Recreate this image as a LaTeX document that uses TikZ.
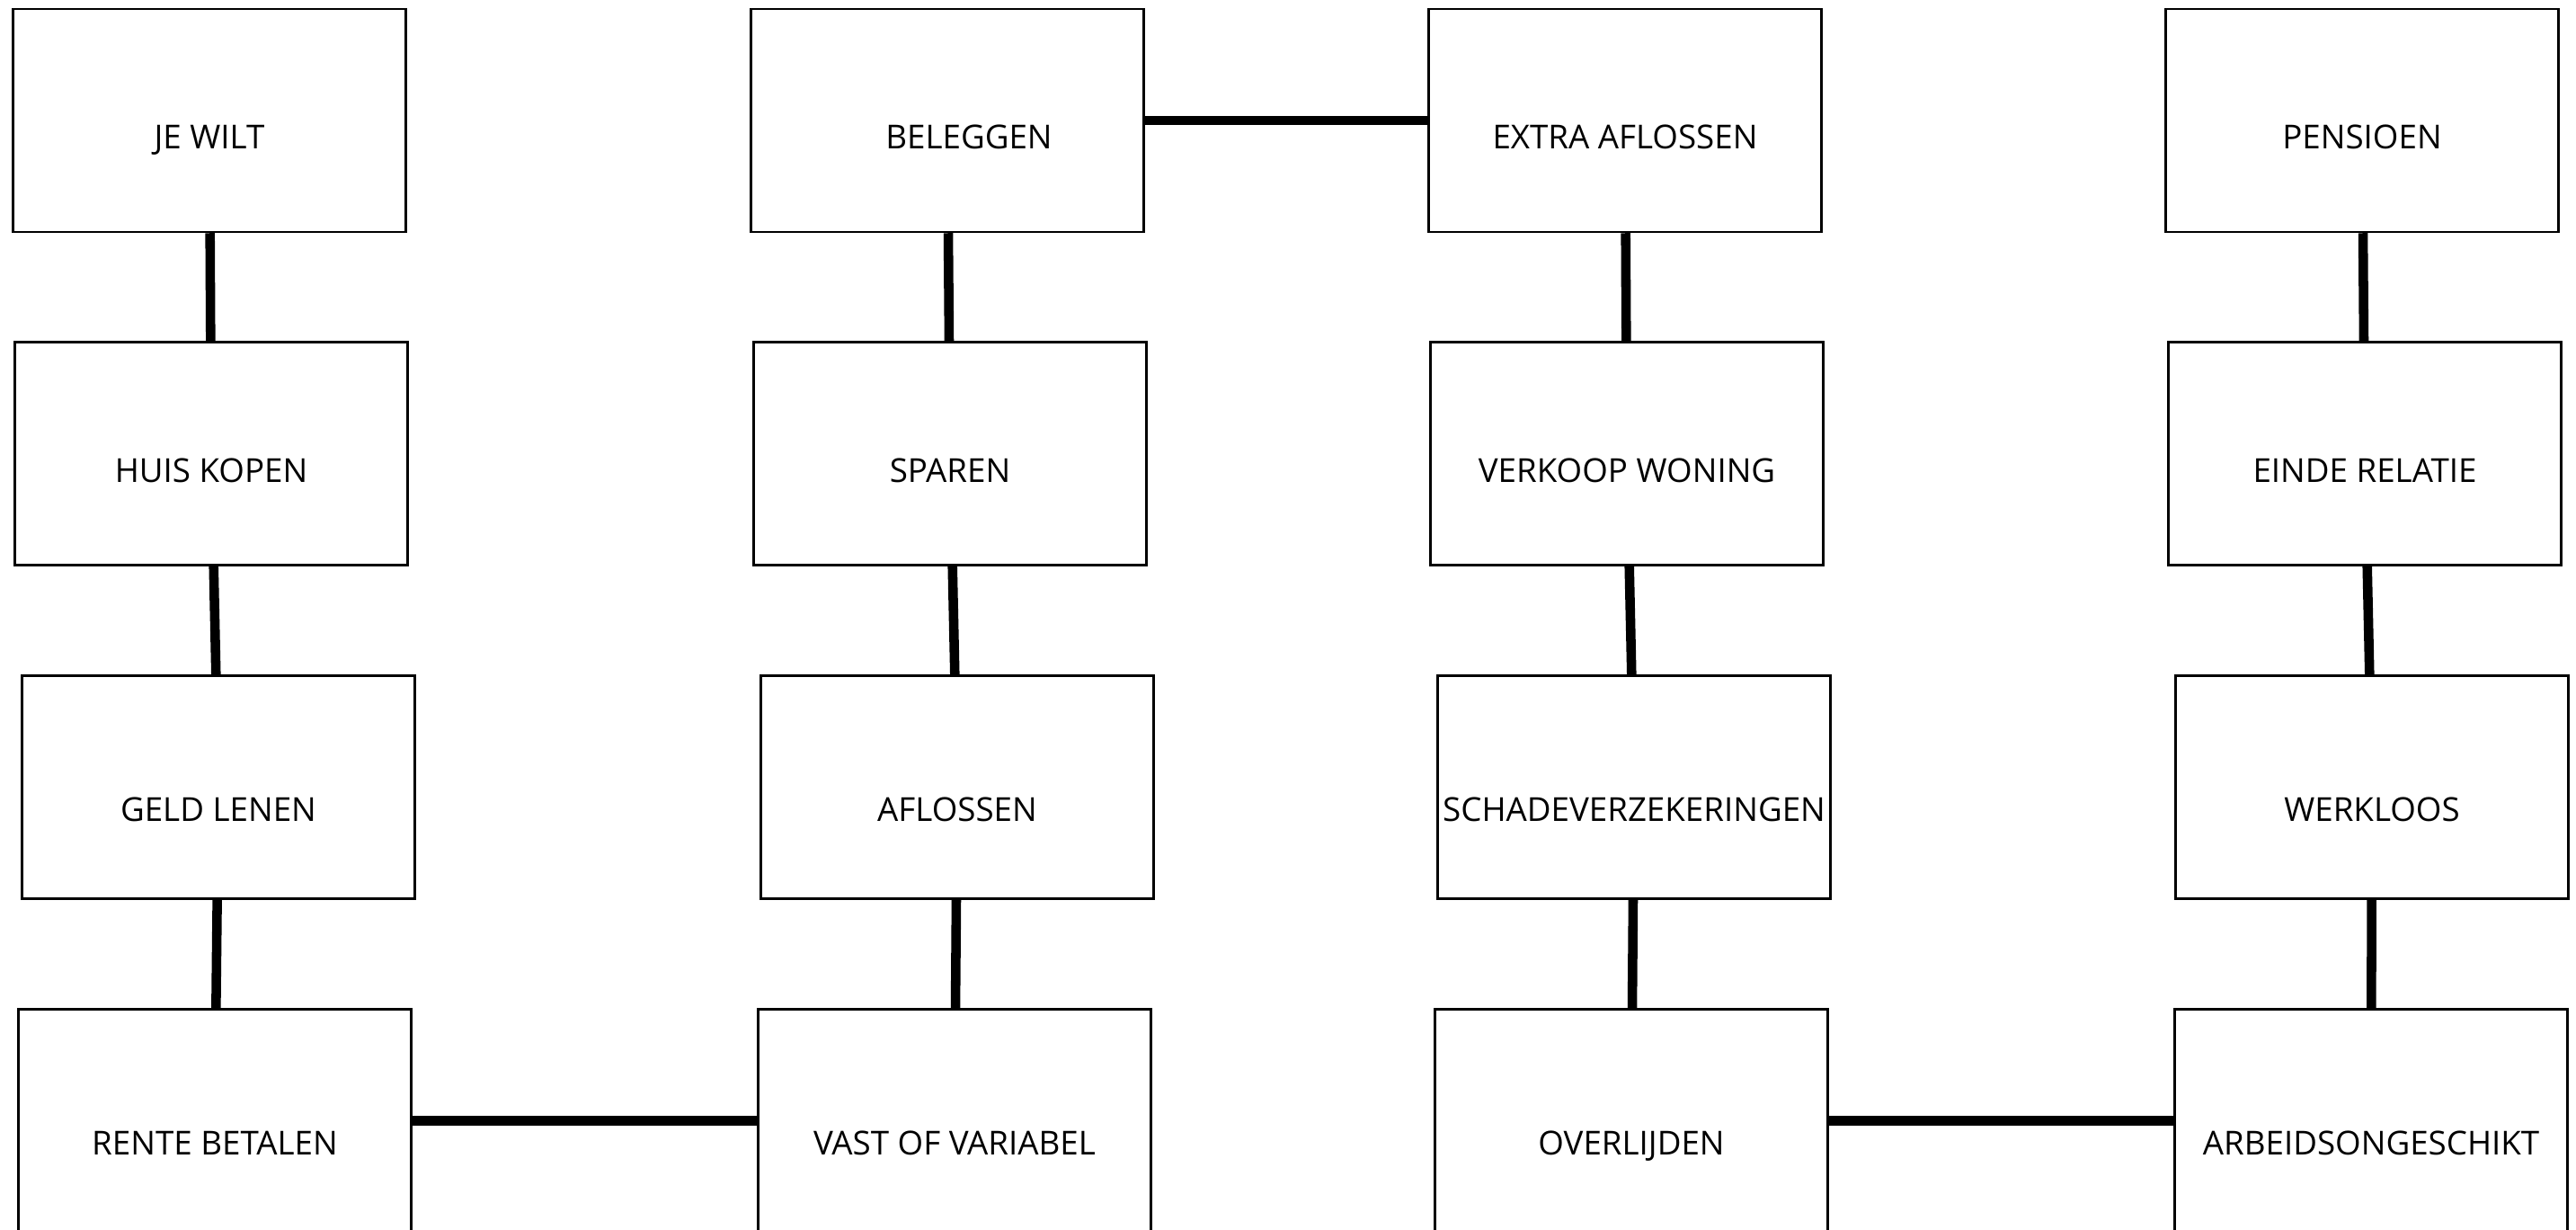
\documentclass[tikz,border=0pt]{standalone}
\usepackage{fontspec}
\setmainfont{Open Sans}

\begin{document}
\begin{tikzpicture}[
        box/.style={draw, line width=0.7pt, rectangle, minimum width=4.37cm, minimum height=2.48cm,
            inner sep=0pt, text height=0.634cm, text depth=0pt, font=\fontsize{10.45}{12}\selectfont},
        lowbox/.style={box, text height=0.76cm},
        link/.style={line width=3pt}
    ]
        \useasboundingbox (0,0) rectangle (28.66,-13.67);

        \node[box] at (2.33,-1.34) (A) {JE WILT};
        \node[box] at (2.35,-5.045) (B) {HUIS KOPEN};
        \node[lowbox] at (2.43,-8.755) (C) {GELD LENEN};
        \node[lowbox] at (2.39,-12.466) (D) {RENTE BETALEN};

        \node[box] at (10.54,-1.34) (E) {\hspace*{0.48cm}BELEGGEN};
        \node[box] at (10.57,-5.045) (F) {SPAREN};
        \node[lowbox] at (10.65,-8.755) (G) {AFLOSSEN};
        \node[lowbox] at (10.62,-12.466) (H) {VAST OF VARIABEL};

        \node[box] at (18.08,-1.34) (I) {EXTRA AFLOSSEN};
        \node[box] at (18.10,-5.045) (J) {VERKOOP WONING};
        \node[lowbox] at (18.18,-8.755) (K) {SCHADEVERZEKERINGEN};
        \node[lowbox] at (18.15,-12.466) (L) {OVERLIJDEN};

        \node[box] at (26.28,-1.34) (M) {PENSIOEN};
        \node[box] at (26.31,-5.045) (N) {EINDE RELATIE};
        \node[lowbox] at (26.39,-8.755) (O) {WERKLOOS};
        \node[lowbox] at (26.38,-12.466) (P) {ARBEIDSONGESCHIKT};

        \draw[link] (A) -- (B);
        \draw[link] (B) -- (C);
        \draw[link] (C) -- (D);
        \draw[link] (D) -- (H);
        \draw[link] (H) -- (G);
        \draw[link] (G) -- (F);
        \draw[link] (F) -- (E);
        \draw[link] (E) -- (I);
        \draw[link] (I) -- (J);
        \draw[link] (J) -- (K);
        \draw[link] (K) -- (L);
        \draw[link] (L) -- (P);
        \draw[link] (P) -- (O);
        \draw[link] (O) -- (N);
        \draw[link] (N) -- (M);

    \end{tikzpicture}
\end{document}
